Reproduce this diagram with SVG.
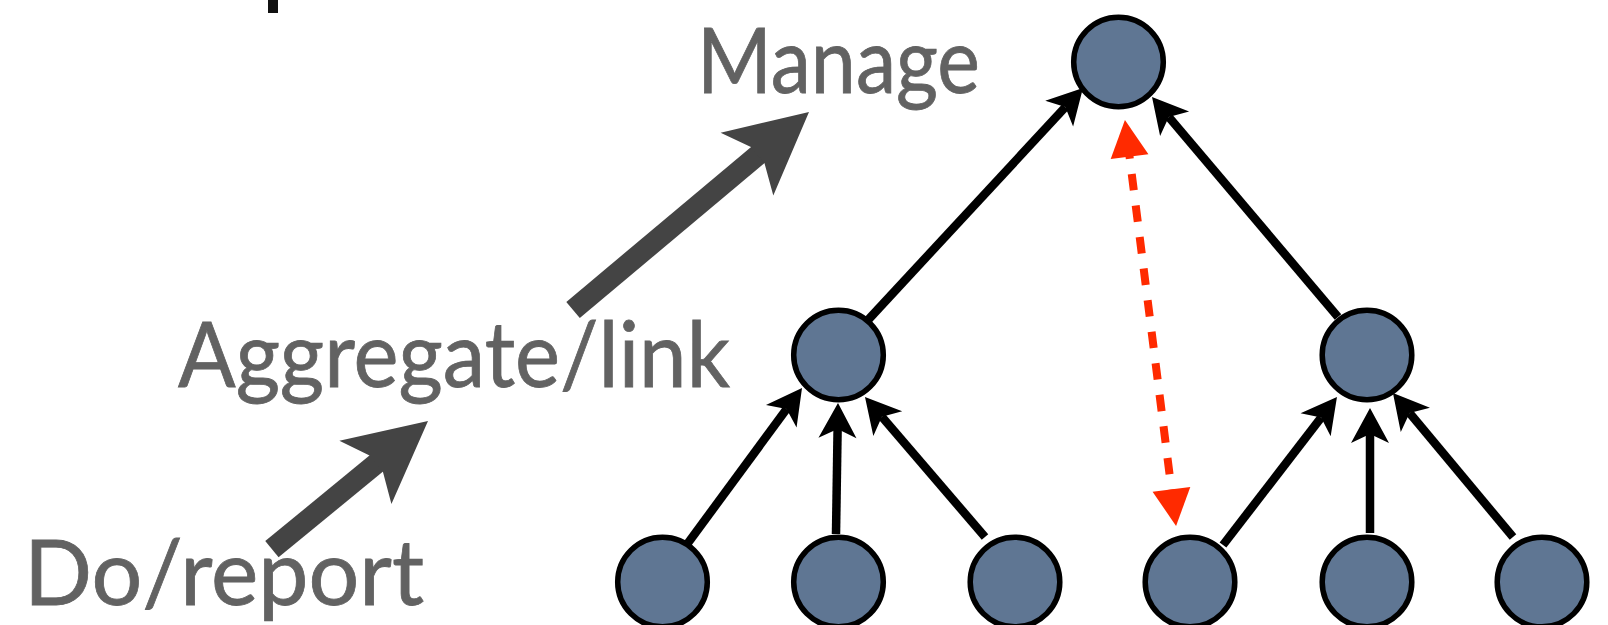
<svg xmlns="http://www.w3.org/2000/svg" width="1608" height="625" viewBox="0 0 1608 625">
  <style>
    .lbl { font-family: Lato, "Liberation Sans", sans-serif; font-size: 91px; fill: #626262; stroke: #626262; stroke-width: 0.8; }
    .node { fill: #5f7693; stroke: #000; stroke-width: 5.5; }
    .edge { stroke: #000; stroke-width: 8.5; fill: none; marker-end: url(#ah); }
    .red { stroke: #ff2a00; stroke-width: 8; fill: none; stroke-dasharray: 16.5 15.3; stroke-dashoffset: 12.4; marker-start: url(#rh); marker-end: url(#rh); }
    .big { fill: #444444; }
  </style>
  <defs>
    <marker id="ah" markerUnits="userSpaceOnUse" orient="auto" refX="0" refY="0" markerWidth="60" markerHeight="60" overflow="visible">
      <path d="M26,0 L-9,-19 L0,0 L-9,19 Z" fill="#000"/>
    </marker>
    <marker id="rh" markerUnits="userSpaceOnUse" orient="auto-start-reverse" refX="0" refY="0" markerWidth="60" markerHeight="60" overflow="visible">
      <path d="M35,0 L-2,-19 L-2,19 Z" fill="#ff2a00"/>
    </marker>
    <polygon id="bigHead" points="0,0 -81,41 -67,10.5 -67,-10.5 -81,-41"/>
  </defs>

  <rect x="268" y="0" width="10" height="13" fill="#111"/>

  <g id="labels">
    <text id="label-manage" class="lbl" x="697" y="93" textLength="283" lengthAdjust="spacingAndGlyphs">Manage</text>
    <text id="label-aggregate" class="lbl" x="178" y="387" textLength="552" lengthAdjust="spacingAndGlyphs">Aggregate/link</text>
    <text id="label-do" class="lbl" x="24" y="605" textLength="400" lengthAdjust="spacingAndGlyphs">Do/report</text>
  </g>

  <g id="level-arrows">
    <g id="arrow-upper" class="big" transform="translate(809,112) rotate(-40)">
      <rect x="-308" y="-10.5" width="242" height="21"/>
      <use href="#bigHead"/>
    </g>
    <g id="arrow-lower" class="big" transform="translate(428,421) rotate(-39.4)">
      <rect x="-202" y="-10.5" width="136" height="21"/>
      <use href="#bigHead"/>
    </g>
  </g>

  <g id="connectors">
    <line class="edge" x1="688" y1="543" x2="786.6" y2="409"/>
    <line class="edge" x1="836" y1="534" x2="837.6" y2="429"/>
    <line class="edge" x1="985" y1="537" x2="881.9" y2="416.7"/>
    <line class="edge" x1="868" y1="320" x2="1065.3" y2="107.1"/>
    <line class="edge" x1="1338" y1="317" x2="1168.8" y2="116.9"/>
    <line class="edge" x1="1223" y1="545" x2="1321.1" y2="417.6"/>
    <line class="edge" x1="1370" y1="533" x2="1370" y2="434"/>
    <line class="edge" x1="1513" y1="537" x2="1409.6" y2="413"/>
    <line class="red" x1="1129.3" y1="154.7" x2="1171.7" y2="491.3"/>
  </g>

  <g id="node-top"><circle class="node" cx="1118.5" cy="62" r="44.8"/></g>
  <g id="node-mid-left"><circle class="node" cx="838.5" cy="355" r="44.8"/></g>
  <g id="node-mid-right"><circle class="node" cx="1367" cy="355" r="44.8"/></g>
  <g id="node-bot-1"><circle class="node" cx="662.5" cy="582" r="44.8"/></g>
  <g id="node-bot-2"><circle class="node" cx="838.5" cy="582" r="44.8"/></g>
  <g id="node-bot-3"><circle class="node" cx="1015" cy="582" r="44.8"/></g>
  <g id="node-bot-4"><circle class="node" cx="1190" cy="582" r="44.8"/></g>
  <g id="node-bot-5"><circle class="node" cx="1367" cy="582" r="44.8"/></g>
  <g id="node-bot-6"><circle class="node" cx="1542" cy="582" r="44.8"/></g>
</svg>
